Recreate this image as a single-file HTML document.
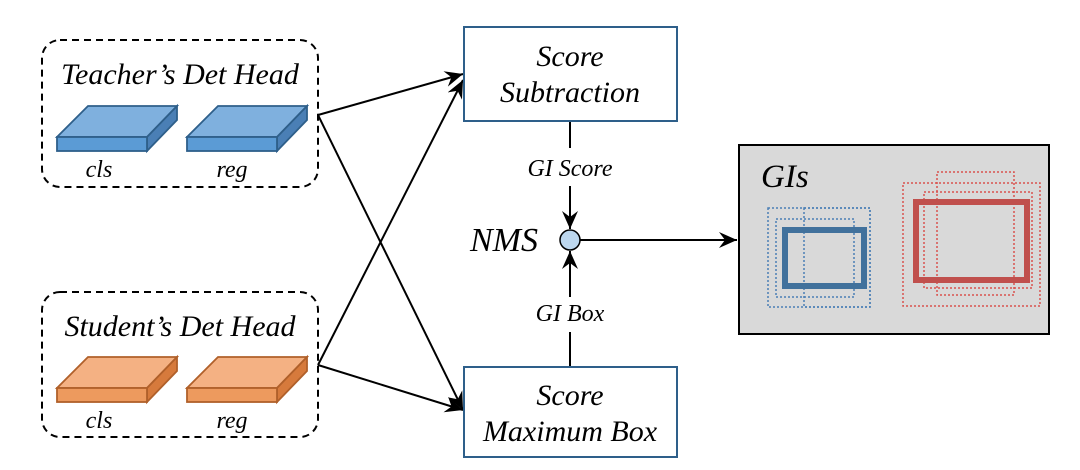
<!DOCTYPE html>
<html><head><meta charset="utf-8"><style>body{margin:0;background:#fff}svg{display:block}text{font-family:"Liberation Serif",serif;font-style:italic;fill:#000}</style></head><body>
<svg width="1080" height="470" viewBox="0 0 1080 470" xmlns="http://www.w3.org/2000/svg">
<defs>
<marker id="a" markerWidth="20" markerHeight="16" refX="18" refY="8" orient="auto" markerUnits="userSpaceOnUse">
<path d="M0,0 L18,8 L0,16 L6,8 Z" fill="#000"/></marker>
<g id="slabB">
<polygon points="0,31 31,0 120,0 90,31" fill="#7fb0de" stroke="#2e5f8a" stroke-width="1.8"/>
<polygon points="90,31 120,0 120,14 90,45" fill="#4a7fb5" stroke="#2e5f8a" stroke-width="1.8"/>
<rect x="0" y="31" width="90" height="14" fill="#5b9bd5" stroke="#2e5f8a" stroke-width="1.8"/>
</g>
<g id="slabO">
<polygon points="0,31 31,0 120,0 90,31" fill="#f4b183" stroke="#b0602a" stroke-width="1.8"/>
<polygon points="90,31 120,0 120,14 90,45" fill="#d67a3c" stroke="#b0602a" stroke-width="1.8"/>
<rect x="0" y="31" width="90" height="14" fill="#ed9a5e" stroke="#b0602a" stroke-width="1.8"/>
</g>
</defs>
<rect x="42" y="40" width="276" height="147" rx="18" fill="none" stroke="#000" stroke-width="2" stroke-dasharray="7,5"/>
<rect x="42" y="292" width="276" height="145" rx="18" fill="none" stroke="#000" stroke-width="2" stroke-dasharray="7,5"/>
<text x="180" y="84" font-size="30" text-anchor="middle">Teacher’s Det Head</text>
<text x="180" y="336" font-size="30" text-anchor="middle">Student’s Det Head</text>
<use href="#slabB" x="57" y="106"/><use href="#slabB" x="187" y="106"/>
<use href="#slabO" x="57" y="357"/><use href="#slabO" x="187" y="357"/>
<text x="99" y="177" font-size="24" text-anchor="middle">cls</text>
<text x="232" y="177" font-size="24" text-anchor="middle">reg</text>
<text x="99" y="428" font-size="24" text-anchor="middle">cls</text>
<text x="232" y="428" font-size="24" text-anchor="middle">reg</text>
<g stroke="#000" stroke-width="2" fill="none">
<line x1="318" y1="115" x2="463" y2="74" marker-end="url(#a)"/>
<line x1="318" y1="115" x2="463" y2="410" marker-end="url(#a)"/>
<line x1="318" y1="365" x2="463" y2="80" marker-end="url(#a)"/>
<line x1="318" y1="365" x2="463" y2="410" marker-end="url(#a)"/>
<line x1="570" y1="121" x2="570" y2="148"/>
<line x1="570" y1="186" x2="570" y2="229" marker-end="url(#a)"/>
<line x1="570" y1="367" x2="570" y2="332"/>
<line x1="570" y1="297" x2="570" y2="251" marker-end="url(#a)"/>
<line x1="580" y1="240" x2="737" y2="240" marker-end="url(#a)"/>
</g>
<rect x="464" y="27" width="213" height="94" fill="#fff" stroke="#2e5f8a" stroke-width="2"/>
<rect x="464" y="367" width="213" height="90" fill="#fff" stroke="#2e5f8a" stroke-width="2"/>
<text x="570" y="66" font-size="30" text-anchor="middle">Score</text>
<text x="570" y="102" font-size="30" text-anchor="middle">Subtraction</text>
<text x="570" y="405" font-size="30" text-anchor="middle">Score</text>
<text x="570" y="441" font-size="30" text-anchor="middle">Maximum Box</text>
<text x="570" y="176" font-size="24" text-anchor="middle">GI Score</text>
<text x="570" y="321" font-size="24" text-anchor="middle">GI Box</text>
<text x="504" y="251" font-size="34" text-anchor="middle">NMS</text>
<circle cx="570" cy="240" r="10" fill="#bdd7ee" stroke="#000" stroke-width="1.5"/>
<rect x="739" y="145" width="310" height="189" fill="#d9d9d9" stroke="#000" stroke-width="2"/>
<text x="761" y="187" font-size="33">GIs</text>
<g fill="none" stroke="#4a7fb5" stroke-width="1.5" stroke-dasharray="2,2">
<rect x="768" y="208" width="102" height="99"/><rect x="776" y="219" width="78" height="78"/><rect x="804" y="208" width="66" height="99"/>
</g>
<rect x="785" y="230" width="79" height="56" fill="none" stroke="#41719c" stroke-width="6"/>
<g fill="none" stroke="#d9534f" stroke-width="1.5" stroke-dasharray="2,2">
<rect x="903" y="183" width="137" height="123"/><rect x="937" y="172" width="77" height="123"/><rect x="924" y="192" width="108" height="96"/>
</g>
<rect x="916" y="202" width="111" height="78" fill="none" stroke="#c0504d" stroke-width="6"/>
</svg>
</body></html>
